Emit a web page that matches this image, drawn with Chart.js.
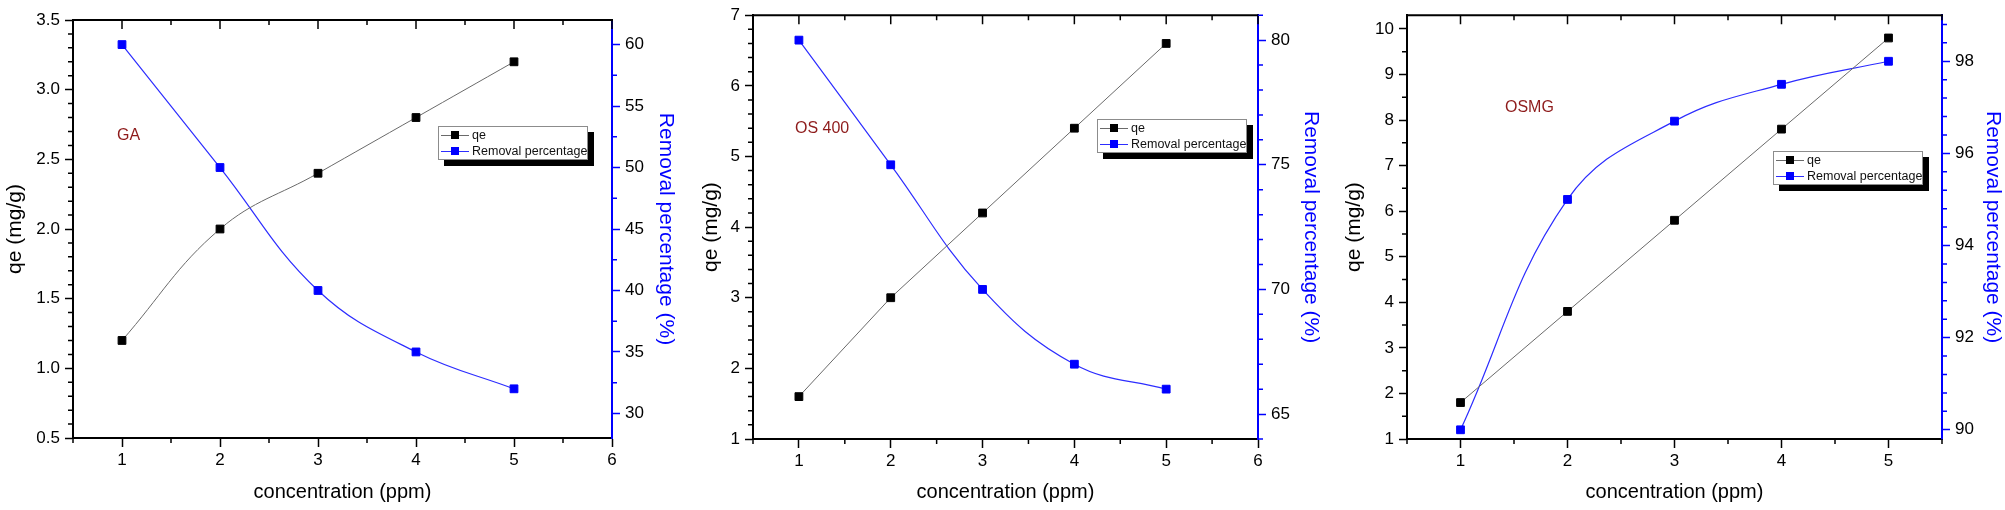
<!DOCTYPE html>
<html>
<head>
<meta charset="utf-8">
<title>qe and removal percentage vs concentration</title>
<script src="https://cdn.jsdelivr.net/npm/chart.js@4.4.0/dist/chart.umd.min.js"></script>
<style>
  body { margin: 0; background: #fff; width: 2005px; height: 510px; overflow: hidden; position: relative;
         font-family: "Liberation Sans", Arial, sans-serif; }
  .panel { position: absolute; top: 0; }
  .legend { position: absolute; width: 150px; height: 34px; background: #fff; border: 1px solid #8c8c8c;
            box-shadow: 6px 6px 0 #000; box-sizing: border-box; padding-top: 0px; font-size: 12.5px; color: #111; }
  .legend .row { height: 16px; line-height: 16px; white-space: nowrap; }
  .key { display: inline-block; position: relative; width: 28px; height: 16px; margin: 0 3px 0 2px; vertical-align: top; }
  .key i { position: absolute; left: 0; right: 0; top: 8px; height: 1px; }
  .key b { position: absolute; left: 10px; top: 4px; width: 8px; height: 8px; }
  .tag { position: absolute; color: #8e1b1b; font-size: 16px; line-height: 18px; }
</style>
</head>
<body>

<script>
// data
var concentration = [1, 2, 3, 4, 5];
var seriesNames = ['qe', 'Removal percentage'];

var qeGA = [1.2, 2.0, 2.4, 2.8, 3.2];
var removalGA = [60, 50, 40, 35, 32];

var qeOS = [1.6, 3.0, 4.2, 5.4, 6.6];
var removalOS = [80, 75, 70, 67, 66];

var qeOSMG = [1.8, 3.8, 5.8, 7.8, 9.8];
var removalOSMG = [90, 95, 96.7, 97.5, 98];

// tick labels
var xTicks6 = [1, 2, 3, 4, 5, 6];
var xTicks5 = [1, 2, 3, 4, 5];
var qeTicksGA = [0.5, 1.0, 1.5, 2.0, 2.5, 3.0, 3.5];
var removalTicksGA = [30, 35, 40, 45, 50, 55, 60];
var qeTicksOS = [1, 2, 3, 4, 5, 6, 7];
var removalTicksOS = [65, 70, 75, 80];
var qeTicksOSMG = [1, 2, 3, 4, 5, 6, 7, 8, 9, 10];
var removalTicksOSMG = [90, 92, 94, 96, 98];

var BLUE = '#0000ff';
var FONT = '"Liberation Sans", Arial, sans-serif';

// layout of the three panels (pixels)
var panels = [
  { name: 'GA', left: 0, width: 680, top: 20, yW: 73, y1W: 68, xH: 72,
    qe: qeGA, rem: removalGA, xRange: [0.5, 6], xTicks: xTicks6, xMinor: 0.5,
    yRange: [0.5, 3.5], yTicks: qeTicksGA, yMinor: 0.1, yDec: 1,
    y1Range: [28, 62], y1Ticks: removalTicksGA, y1Minor: 2.5,
    qeCurve: true, t1Pad: 2, legend: [438, 126], tag: [117, 126] },
  { name: 'OS 400', left: 696, width: 629, top: 12, yW: 57, y1W: 67, xH: 71,
    qe: qeOS, rem: removalOS, xRange: [0.5, 6], xTicks: xTicks6, xMinor: 0.5,
    yRange: [1, 7], yTicks: qeTicksOS, yMinor: 0.2, yDec: 0,
    y1Range: [64, 81], y1Ticks: removalTicksOS, y1Minor: 1,
    qeCurve: false, t1Pad: 2, legend: [1097, 119], tag: [795, 119] },
  { name: 'OSMG', left: 1339, width: 666, top: 4, yW: 68, y1W: 63, xH: 71,
    qe: qeOSMG, rem: removalOSMG, xRange: [0.5, 5.5], xTicks: xTicks5, xMinor: 0.5,
    yRange: [1, 10.3], yTicks: qeTicksOSMG, yMinor: 0.5, yDec: 0,
    y1Range: [89.8, 99], y1Ticks: removalTicksOSMG, y1Minor: 0.4,
    qeCurve: false, t1Pad: 0, legend: [1773, 151], tag: [1505, 98] }
];

function pts(ys) {
  return concentration.map(function (c, i) { return { x: c, y: ys[i] }; });
}

function setTicks(list) {
  return function (s) { s.ticks = list.map(function (v) { return { value: v }; }); };
}

function minorValues(scale, step, major) {
  var out = [];
  var n0 = Math.ceil(scale.min / step - 1e-9), n1 = Math.floor(scale.max / step + 1e-9);
  for (var n = n0; n <= n1; n++) {
    var v = Math.round(n * step * 1000) / 1000;
    if (major.indexOf(v) < 0) out.push(v);
  }
  return out;
}

// top frame line, inward top ticks and the minor ticks Chart.js doesn't have
var frameTicks = {
  id: 'frameTicks',
  afterDraw: function (chart, args, o) {
    var ctx = chart.ctx, a = chart.chartArea;
    var sx = chart.scales.x, sy = chart.scales.y, sy1 = chart.scales.y1;
    ctx.save();
    ctx.strokeStyle = '#000';
    ctx.lineWidth = 2;
    ctx.beginPath();
    ctx.moveTo(a.left - 1, a.top);
    ctx.lineTo(a.right + 1, a.top);
    ctx.stroke();

    ctx.lineWidth = 1.5;
    ctx.beginPath();
    var xMajor = sx.ticks.map(function (t) { return t.value; });
    xMajor.forEach(function (v) {
      var p = sx.getPixelForValue(v);
      ctx.moveTo(p, a.top); ctx.lineTo(p, a.top + 9);
    });
    minorValues(sx, o.xMinor, xMajor).forEach(function (v) {
      var p = sx.getPixelForValue(v);
      ctx.moveTo(p, a.top); ctx.lineTo(p, a.top + 5);
      ctx.moveTo(p, a.bottom); ctx.lineTo(p, a.bottom + 5);
    });
    var yMajor = sy.ticks.map(function (t) { return t.value; });
    minorValues(sy, o.yMinor, yMajor).forEach(function (v) {
      var p = sy.getPixelForValue(v);
      ctx.moveTo(a.left, p); ctx.lineTo(a.left - 5, p);
    });
    ctx.stroke();

    ctx.strokeStyle = BLUE;
    ctx.beginPath();
    var y1Major = sy1.ticks.map(function (t) { return t.value; });
    minorValues(sy1, o.y1Minor, y1Major).forEach(function (v) {
      var p = sy1.getPixelForValue(v);
      ctx.moveTo(a.right, p); ctx.lineTo(a.right + 5, p);
    });
    ctx.stroke();
    ctx.restore();
  }
};

function addLegend(p, chart) {
  var box = document.createElement('div');
  box.className = 'legend';
  box.style.left = p.legend[0] + 'px';
  box.style.top = p.legend[1] + 'px';
  chart.data.datasets.forEach(function (ds) {
    var row = document.createElement('div');
    row.className = 'row';
    var key = document.createElement('span');
    key.className = 'key';
    key.innerHTML = '<i style="background:' + ds.borderColor + '"></i><b style="background:' + ds.pointBackgroundColor + '"></b>';
    row.appendChild(key);
    row.appendChild(document.createTextNode(ds.label));
    box.appendChild(row);
  });
  document.body.appendChild(box);
}

panels.forEach(function (p, i) {
  var canvas = document.createElement('canvas');
  canvas.className = 'panel';
  canvas.id = 'panel' + i;
  canvas.width = p.width;
  canvas.height = 510;
  canvas.style.left = p.left + 'px';
  canvas.style.width = p.width + 'px';
  canvas.style.height = '510px';
  document.body.appendChild(canvas);

  var tickFont = { family: FONT, size: 17 };
  var titleFont = { family: FONT, size: 20 };
  var yTitleFont = { family: FONT, size: 21 };

  var chart = new Chart(canvas, {
    type: 'line',
    data: {
      datasets: [{
        label: seriesNames[0],
        data: pts(p.qe),
        yAxisID: 'y',
        borderColor: '#6a6a6a',
        borderWidth: 1,
        pointStyle: 'rect',
        pointRadius: 5.5,
        pointBorderWidth: 1,
        pointBackgroundColor: '#000',
        pointBorderColor: '#000',
        tension: p.qeCurve ? 0.4 : 0
      }, {
        label: seriesNames[1],
        data: pts(p.rem),
        yAxisID: 'y1',
        borderColor: '#2d2dff',
        borderWidth: 1.2,
        pointStyle: 'rect',
        pointRadius: 5.5,
        pointBorderWidth: 1,
        pointBackgroundColor: BLUE,
        pointBorderColor: BLUE,
        tension: 0.4
      }]
    },
    options: {
      responsive: false,
      animation: false,
      layout: { padding: { top: p.top, left: 0, right: 0, bottom: 0 } },
      plugins: {
        legend: { display: false },
        tooltip: { enabled: false },
        frameTicks: { xMinor: p.xMinor, yMinor: p.yMinor, y1Minor: p.y1Minor }
      },
      scales: {
        x: {
          type: 'linear', position: 'bottom',
          min: p.xRange[0], max: p.xRange[1],
          afterBuildTicks: setTicks(p.xTicks),
          afterFit: function (s) { s.height = p.xH; },
          grid: { drawOnChartArea: false, tickLength: 9, tickWidth: 1.5, tickColor: '#000' },
          border: { color: '#000', width: 2 },
          ticks: { color: '#000', font: tickFont, padding: 3, maxRotation: 0, autoSkip: false },
          title: { display: true, text: 'concentration (ppm)', color: '#000', font: titleFont, padding: { top: 0, bottom: 6 } }
        },
        y: {
          type: 'linear', position: 'left',
          min: p.yRange[0], max: p.yRange[1],
          afterBuildTicks: setTicks(p.yTicks),
          afterFit: function (s) { s.width = p.yW; },
          grid: { drawOnChartArea: false, tickLength: 8, tickWidth: 1.5, tickColor: '#000' },
          border: { color: '#000', width: 2 },
          ticks: {
            color: '#000', font: tickFont, padding: 5, autoSkip: false,
            callback: function (v) { return v.toFixed(p.yDec); }
          },
          title: { display: true, text: 'qe (mg/g)', color: '#000', font: yTitleFont, padding: { top: 3, bottom: 0 } }
        },
        y1: {
          type: 'linear', position: 'right',
          min: p.y1Range[0], max: p.y1Range[1],
          afterBuildTicks: setTicks(p.y1Ticks),
          afterFit: function (s) { s.width = p.y1W; },
          grid: { drawOnChartArea: false, tickLength: 8, tickWidth: 1.5, tickColor: BLUE },
          border: { color: BLUE, width: 2 },
          ticks: { color: '#000', font: tickFont, padding: 5, autoSkip: false },
          title: { display: true, text: 'Removal percentage (%)', color: BLUE, font: yTitleFont, padding: { top: p.t1Pad, bottom: 0 } }
        }
      }
    },
    plugins: [frameTicks]
  });

  addLegend(p, chart);

  var tag = document.createElement('div');
  tag.className = 'tag';
  tag.style.left = p.tag[0] + 'px';
  tag.style.top = p.tag[1] + 'px';
  tag.textContent = p.name;
  document.body.appendChild(tag);
});
</script>
</body>
</html>
